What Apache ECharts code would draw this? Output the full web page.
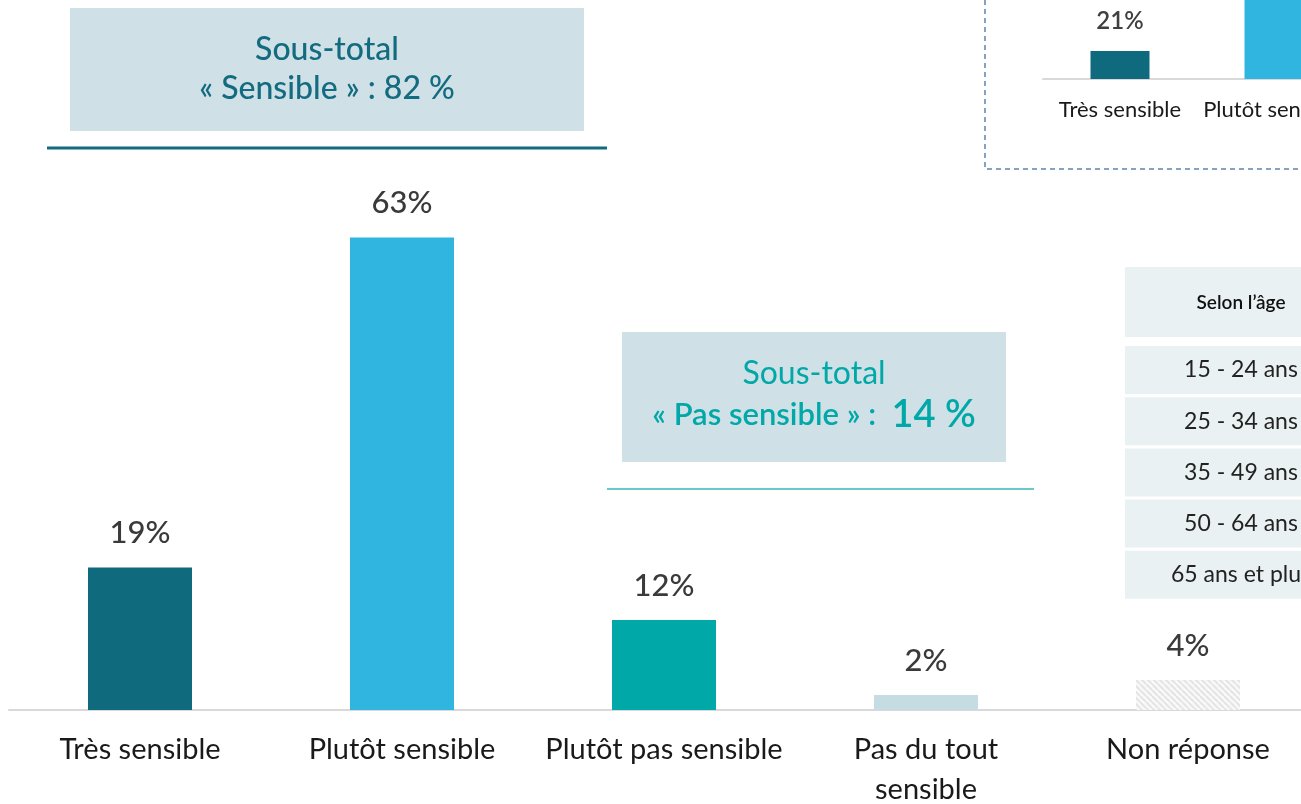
<!DOCTYPE html>
<html>
<head>
<meta charset="utf-8">
<script src="https://cdn.jsdelivr.net/npm/echarts@6/dist/echarts.min.js"></script>
<style>
  html, body { margin: 0; padding: 0; background: #fff; }
  #chart { width: 1301px; height: 804px; }
</style>
</head>
<body>
<div id="chart"></div>
<script>
// données
const categories = ['Très sensible', 'Plutôt sensible', 'Plutôt pas sensible', 'Pas du tout\nsensible', 'Non réponse'];
const values = [19, 63, 12, 2, 4];
const barColors = ['#0f6a7e', '#2fb5e0', '#00a8a8', '#c5dde2', 'hatch'];

// encart (autre vague, coupé à droite)
const insetCategories = ['Très sensible', 'Plutôt sensible'];
const insetValues = [21, 61];
const insetColors = ['#0f6a7e', '#2fb5e0'];

const ageGroups = ['15 - 24 ans', '25 - 34 ans', '35 - 49 ans', '50 - 64 ans', '65 ans et plus'];

const FONT = 'Lato, "Noto Sans", sans-serif';

const subSensible = values[0] + values[1];
const subPasSensible = values[2] + values[3];

// motif hachuré pour "Non réponse"
function hatch() {
  const c = document.createElement('canvas');
  c.width = 6; c.height = 6;
  const ctx = c.getContext('2d');
  ctx.fillStyle = '#f9f9f9';
  ctx.fillRect(0, 0, 6, 6);
  ctx.strokeStyle = '#e4e4e4';
  ctx.lineWidth = 2;
  for (let k = -6; k <= 6; k += 6) {
    ctx.beginPath();
    ctx.moveTo(0, k);
    ctx.lineTo(6, 6 + k);
    ctx.stroke();
  }
  return { image: c, repeat: 'repeat' };
}
const hatchPattern = hatch();

const chart = echarts.init(document.getElementById('chart'), null, { renderer: 'canvas' });

// tableau "Selon l'âge"
const tableEls = [
  { type: 'rect', shape: { x: 1125, y: 267, width: 200, height: 70 }, style: { fill: '#eaf1f3' } },
  { type: 'text', x: 1241, y: 303, style: { text: 'Selon l’âge', font: '600 19px ' + FONT, fill: '#111', align: 'center', verticalAlign: 'middle' } }
];
ageGroups.forEach((g, i) => {
  const top = 346 + i * 51.2;
  tableEls.push({ type: 'rect', shape: { x: 1125, y: top, width: 200, height: 48 }, style: { fill: '#eaf1f3' } });
  tableEls.push({ type: 'text', x: 1241, y: top + 24, style: { text: g, font: '23px ' + FONT, fill: '#222', align: 'center', verticalAlign: 'middle' } });
});

const option = {
  animation: false,
  textStyle: { fontFamily: FONT },
  grid: [
    { left: 9, top: 80, width: 1310, height: 630, outerBoundsMode: 'none' },
    { left: 1043, top: 0, width: 308, height: 79, outerBoundsMode: 'none' }
  ],
  xAxis: [
    {
      type: 'category',
      gridIndex: 0,
      data: categories,
      axisTick: { show: false },
      axisLine: { lineStyle: { color: '#d9d9d9', width: 2 } },
      axisLabel: { interval: 0, fontSize: 29, color: '#1a1a1a', margin: 20, lineHeight: 40, fontFamily: FONT }
    },
    {
      type: 'category',
      gridIndex: 1,
      data: insetCategories,
      axisTick: { show: false },
      axisLine: { lineStyle: { color: '#d9d9d9', width: 2 } },
      axisLabel: { interval: 0, fontSize: 22, color: '#1a1a1a', margin: 20, fontFamily: FONT }
    }
  ],
  yAxis: [
    { type: 'value', gridIndex: 0, min: 0, max: 84, show: false },
    { type: 'value', gridIndex: 1, min: 0, max: 59, show: false }
  ],
  series: [
    {
      type: 'bar',
      xAxisIndex: 0,
      yAxisIndex: 0,
      barWidth: 104,
      data: values.map((v, i) => ({
        value: v,
        itemStyle: { color: barColors[i] === 'hatch' ? hatchPattern : barColors[i] }
      })),
      label: {
        show: true,
        position: 'top',
        distance: 19,
        formatter: '{c}%',
        fontSize: 31,
        fontWeight: 500,
        color: '#3a3a3a',
        fontFamily: FONT
      }
    },
    {
      type: 'bar',
      xAxisIndex: 1,
      yAxisIndex: 1,
      barWidth: 59,
      data: insetValues.map((v, i) => ({ value: v, itemStyle: { color: insetColors[i] } })),
      label: {
        show: true,
        position: 'top',
        distance: 18,
        formatter: '{c}%',
        fontSize: 24,
        fontWeight: 600,
        color: '#404040',
        fontFamily: FONT
      }
    }
  ],
  graphic: [
    // encart pointillé
    { type: 'rect', shape: { x: 985, y: -10, width: 400, height: 179 }, style: { fill: 'none', stroke: '#5d85a9', lineWidth: 1.5, lineDash: [5, 4] } },
    // sous-total sensible
    { type: 'rect', shape: { x: 70, y: 8, width: 514, height: 123 }, style: { fill: '#cfe0e6' } },
    { type: 'text', x: 327, y: 50, style: { text: 'Sous-total', font: '500 32px ' + FONT, fill: '#136b80', align: 'center', verticalAlign: 'middle' } },
    { type: 'text', x: 327, y: 89, style: { text: '« Sensible » : ' + subSensible + ' %', font: '500 32px ' + FONT, fill: '#136b80', align: 'center', verticalAlign: 'middle' } },
    { type: 'line', shape: { x1: 47, y1: 148, x2: 607, y2: 148 }, style: { stroke: '#136b80', lineWidth: 3 } },
    // sous-total pas sensible
    { type: 'rect', shape: { x: 622, y: 332, width: 384, height: 130 }, style: { fill: '#cfe0e6' } },
    { type: 'text', x: 814, y: 374, style: { text: 'Sous-total', font: '32px ' + FONT, fill: '#00a8a8', align: 'center', verticalAlign: 'middle' } },
    {
      type: 'text', x: 814, y: 415,
      style: {
        text: '{a|« Pas sensible » :  }{b|' + subPasSensible + ' %}',
        align: 'center', verticalAlign: 'middle',
        rich: {
          a: { font: '600 31px ' + FONT, fill: '#00a8a8', color: '#00a8a8' },
          b: { font: '600 38px ' + FONT, fill: '#00a8a8', color: '#00a8a8' }
        }
      }
    },
    { type: 'line', shape: { x1: 607, y1: 489, x2: 1034, y2: 489 }, style: { stroke: '#3bb5b5', lineWidth: 1.5 } }
  ].concat(tableEls)
};

chart.setOption(option);
</script>
</body>
</html>
